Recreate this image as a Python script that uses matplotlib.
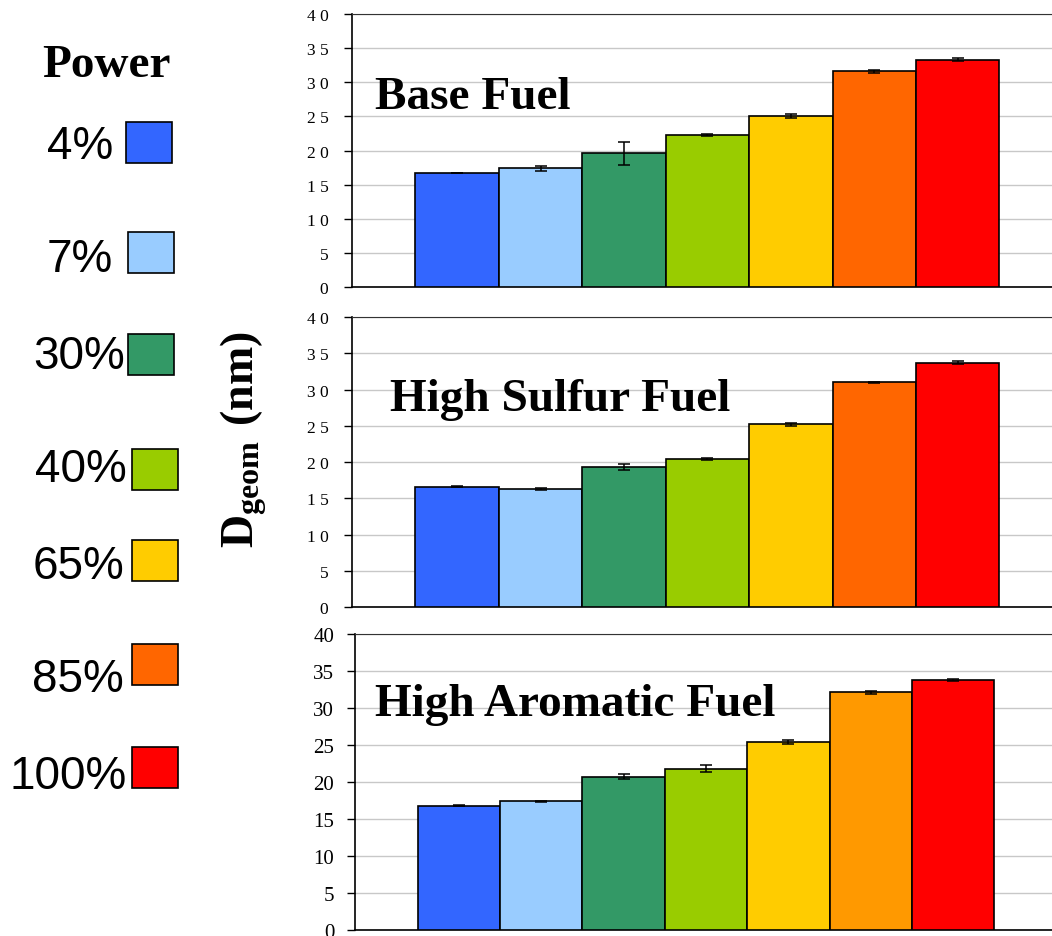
import numpy as np
import matplotlib
matplotlib.use("Agg")
import matplotlib.pyplot as plt
from matplotlib.patches import Rectangle

plt.rcParams['mathtext.fontset'] = 'custom'
plt.rcParams['mathtext.rm'] = 'Liberation Serif'
plt.rcParams['mathtext.bf'] = 'Liberation Serif:bold'

power = ['4%', '7%', '30%', '40%', '65%', '85%', '100%']
colors = ['#3366FF', '#99CCFF', '#339966', '#99CC00', '#FFCC00', '#FF6600', '#FF0000']
colors_arom = ['#3366FF', '#99CCFF', '#339966', '#99CC00', '#FFCC00', '#FF9900', '#FF0000']

fuels = ['Base Fuel', 'High Sulfur Fuel', 'High Aromatic Fuel']
base = [16.7, 17.4, 19.6, 22.3, 25.0, 31.6, 33.3]
base_err = [0.05, 0.4, 1.7, 0.15, 0.3, 0.25, 0.2]
sulfur = [16.6, 16.3, 19.3, 20.4, 25.2, 31.0, 33.7]
sulfur_err = [0.05, 0.1, 0.45, 0.1, 0.2, 0.1, 0.2]
arom = [16.8, 17.4, 20.7, 21.8, 25.4, 32.1, 33.8]
arom_err = [0.1, 0.1, 0.35, 0.45, 0.25, 0.25, 0.15]

fig = plt.figure(figsize=(10.52, 9.37), dpi=100)

# panel boxes in figure fractions
boxes = [(0.3346, 0.6926, 0.6654, 0.2914),
         (0.3346, 0.3511, 0.6654, 0.3095),
         (0.3375, 0.0064, 0.6625, 0.3159)]
xlims = [(-1.26, 7.13), (-1.26, 7.13), (-1.26, 7.2)]
title_pos = [(0.356, 0.895), (0.371, 0.573), (0.356, 0.248)]
data = [(base, base_err, colors), (sulfur, sulfur_err, colors), (arom, arom_err, colors_arom)]

ind = np.arange(len(power))
for k in range(3):
    ax = fig.add_axes(boxes[k])
    vals, errs, cols = data[k]
    ax.bar(ind, vals, 1.0, color=cols, edgecolor='black', linewidth=1.2, zorder=3)
    ax.errorbar(ind, vals, yerr=errs, fmt='none', ecolor='black', elinewidth=1.1,
                capsize=4.5, capthick=1.1, zorder=4)
    ax.set_xlim(*xlims[k])
    ax.set_ylim(0, 40)
    ax.set_yticks(np.arange(0, 41, 5))
    ax.yaxis.grid(True, color='#C8C8C8', linewidth=1.0, zorder=0)
    ax.set_axisbelow(True)
    ax.set_xticks([])
    ax.spines['right'].set_visible(False)
    ax.spines['top'].set_color('#333333')
    for s in ['left', 'bottom']:
        ax.spines[s].set_linewidth(1.2)
    if k < 2:
        # spaced-out digits as in the original
        ax.set_yticklabels([' '.join(str(v)) for v in range(0, 41, 5)],
                           family='Liberation Serif', size=12.5)
        ax.tick_params(axis='y', length=6, width=1, pad=11)
    else:
        ax.set_yticklabels([str(v) for v in range(0, 41, 5)],
                           family='Liberation Serif', size=15)
        ax.tick_params(axis='y', length=6, width=1, pad=9)
    fig.text(title_pos[k][0], title_pos[k][1], fuels[k], family='Liberation Serif',
             weight='bold', size=34, ha='left', va='center')

# y label
fig.text(0.232, 0.531, r'$\mathbf{D_{geom}\ (nm)}$', rotation=90, size=33,
         ha='center', va='center')

# left legend
fig.text(0.101, 0.93, 'Power', family='Liberation Serif', weight='bold', size=34,
         ha='center', va='center')
box_x = [126, 128, 128, 132, 132, 132, 132]
box_y = [123, 233, 335, 450, 541, 645, 748]
text_x = [113, 113, 125, 127, 124, 124, 127]
text_y = [147, 260, 357, 470, 567, 680, 777]
for i in range(len(power)):
    fig.patches.append(Rectangle((box_x[i] / 1052, 1 - (box_y[i] + 41) / 937),
                                 46 / 1052, 41 / 937, transform=fig.transFigure,
                                 facecolor=colors[i], edgecolor='black', linewidth=1.2))
    fig.text(text_x[i] / 1052, 1 - text_y[i] / 937, power[i], family='Liberation Sans',
             size=33, ha='right', va='center')

fig.savefig('out.png', dpi=100)
